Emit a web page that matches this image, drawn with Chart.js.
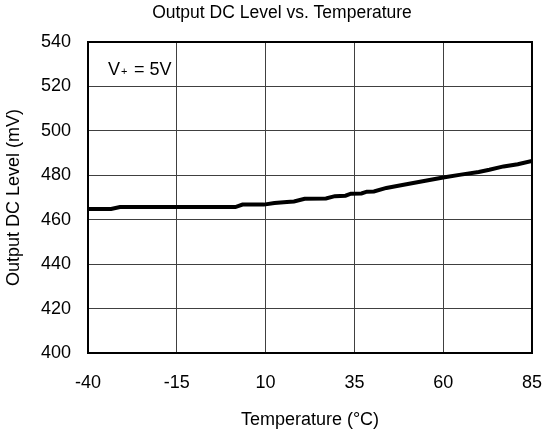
<!DOCTYPE html>
<html>
<head>
<meta charset="utf-8">
<script src="https://cdn.jsdelivr.net/npm/chart.js@4/dist/chart.umd.min.js"></script>
<style>
  html, body { margin: 0; padding: 0; background: #ffffff; }
  #wrap { width: 542px; height: 438px; }
</style>
</head>
<body>
<div id="wrap"><canvas id="c" width="542" height="438"></canvas></div>
<script>
const chartTitle = "Output DC Level vs. Temperature";
const xTitle = "Temperature (\u00B0C)";
const yTitle = "Output DC Level (mV)";
const xTicks = [-40, -15, 10, 35, 60, 85];
const yTicks = [400, 420, 440, 460, 480, 500, 520, 540];
const temperature = [-40, -33.5, -31, -25, -20, -15, -10, -5, 0, 1.5, 3.5, 9.5, 12.5, 16, 18, 21, 27, 29.5, 32.5, 34, 37, 38.5, 40.5, 44, 48.5, 55, 60, 65, 70, 73, 77, 81, 85];
const outputLevel = [464.8, 464.8, 465.7, 465.7, 465.7, 465.7, 465.7, 465.7, 465.7, 465.7, 466.8, 466.8, 467.5, 468.0, 468.2, 469.4, 469.6, 470.6, 470.8, 471.7, 471.8, 472.6, 472.7, 474.3, 475.6, 477.5, 479.0, 480.3, 481.5, 482.5, 484.0, 485.0, 486.5];

const FONT = "Liberation Sans, Arial, sans-serif";

const frame = {
  id: 'frame',
  afterDatasetsDraw(chart) {
    const {ctx, chartArea: a} = chart;
    ctx.save();
    ctx.strokeStyle = '#000000';
    ctx.lineWidth = 2;
    ctx.strokeRect(a.left, a.top, a.right - a.left, a.bottom - a.top);
    ctx.fillStyle = '#000000';
    // chart title
    ctx.textAlign = 'center';
    ctx.textBaseline = 'middle';
    ctx.font = "17.5px " + FONT;
    ctx.fillText(chartTitle, 282, 13);
    // annotation V+ = 5V
    ctx.textBaseline = 'alphabetic';
    ctx.textAlign = 'left';
    const bx = a.left + 20, by = a.top + 33;
    ctx.font = "18px " + FONT;
    ctx.fillText("V", bx, by);
    ctx.font = "11px " + FONT;
    ctx.fillText("+", bx + 13, by);
    ctx.font = "18px " + FONT;
    ctx.fillText("= 5V", bx + 26, by);
    ctx.restore();
  }
};

new Chart(document.getElementById('c'), {
  type: 'scatter',
  data: {
    datasets: [{
      data: temperature.map((t, i) => ({x: t, y: outputLevel[i]})),
      showLine: true,
      borderColor: '#000000',
      borderWidth: 4,
      pointRadius: 0,
      tension: 0,
      fill: false
    }]
  },
  options: {
    responsive: false,
    animation: false,
    devicePixelRatio: 1,
    layout: { padding: { left: 0, right: 4, top: 42, bottom: 0 } },
    plugins: {
      legend: { display: false },
      tooltip: { enabled: false },
      title: { display: false }
    },
    scales: {
      x: {
        type: 'linear',
        min: -40, max: 85,
        afterBuildTicks(scale) { scale.ticks = xTicks.map(v => ({value: v})); },
        afterFit(scale) { scale.height = 85; },
        ticks: {
          color: '#000000',
          font: { family: FONT, size: 18 },
          padding: 0,
          maxRotation: 0,
          autoSkip: false
        },
        grid: { color: '#404040', lineWidth: 1, drawTicks: true, tickLength: 19, tickColor: 'rgba(0,0,0,0)' },
        border: { display: false },
        title: {
          display: true, text: xTitle, color: '#000000',
          font: { family: FONT, size: 18 },
          padding: { top: 0, bottom: 7 }
        }
      },
      y: {
        type: 'linear',
        min: 400, max: 540,
        afterBuildTicks(scale) { scale.ticks = yTicks.map(v => ({value: v})); },
        afterFit(scale) { scale.width = 88; },
        ticks: {
          color: '#000000',
          font: { family: FONT, size: 18 },
          padding: 0,
          autoSkip: false
        },
        grid: { color: '#404040', lineWidth: 1, drawTicks: true, tickLength: 17, tickColor: 'rgba(0,0,0,0)' },
        border: { display: false },
        title: {
          display: true, text: yTitle, color: '#000000',
          font: { family: FONT, size: 18 },
          padding: { top: 3, bottom: 0 }
        }
      }
    }
  },
  plugins: [frame]
});
</script>
</body>
</html>
